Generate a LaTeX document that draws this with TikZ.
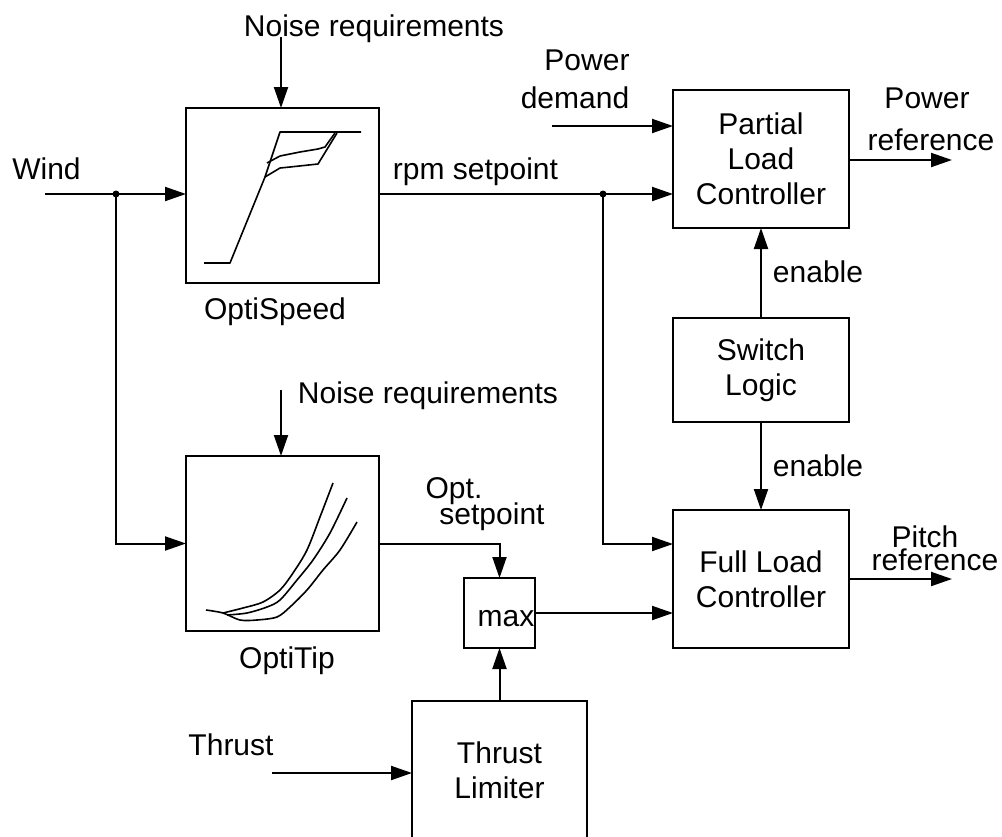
\documentclass[tikz,border=0pt]{standalone}
\usepackage{fontspec}
\setmainfont{Liberation Sans}
\usetikzlibrary{arrows.meta}
\begin{document}
\begin{tikzpicture}[x=1pt,y=-1pt,
  every node/.style={font=\fontsize{30}{35}\selectfont, inner sep=0pt, outer sep=0pt},
  blk/.style={draw, line width=2pt, align=center},
  wire/.style={line width=2pt},
  arr/.style={wire, -{Triangle[length=21pt,width=14pt]}},
  crv/.style={line width=1.6pt, line join=round},
  lbl/.style={anchor=base},
  jdot/.style={circle, fill, minimum size=7pt, inner sep=0pt}]
\useasboundingbox (0,0) rectangle (1002,836);
\clip (0,0) rectangle (1002,836);

% blocks
\node[blk, minimum width=193pt, minimum height=175pt] (os) at (282.5,195.5) {};
\node[blk, minimum width=193pt, minimum height=175pt] (ot) at (282.5,543.5) {};
\node[blk, minimum width=176pt, minimum height=138pt] (plc) at (761,159) {Partial\\Load\\Controller};
\node[blk, minimum width=176pt, minimum height=104pt] (sl) at (761,370) {Switch\\Logic};
\node[blk, minimum width=176pt, minimum height=138pt] (flc) at (761,579) {Full Load\\Controller};
\node[blk, minimum width=71pt, minimum height=70pt] (mx) at (499.5,613) {};
\node[lbl] (mxt) at (506,626) {max};
\node[blk, minimum width=175pt, minimum height=138pt] (tl) at (499.5,770) {Thrust\\Limiter};

% curves in OptiSpeed
\draw[crv] (204,263) -- (230,263) -- (265,177) -- (280,132) -- (361,132);
\draw[crv] (267,163) -- (280,156) -- (300,152) -- (318,149) -- (325,147) -- (335,133);
\draw[crv] (265,177) -- (280,168) -- (290,167) -- (318,164) -- (337,133);

% curves in OptiTip
\draw[crv] plot[smooth] coordinates {(223,613) (243,608) (263,602) (280,590) (293,573) (307,550) (320,517) (333,483)};
\draw[crv] plot[smooth] coordinates {(227,615) (247,613) (267,607) (280,600) (297,580) (313,560) (330,533) (347,498)};
\draw[crv] plot[smooth] coordinates {(206,610) (223,613) (240,620) (257,620) (277,617) (290,607) (307,590) (323,570) (340,550) (357,522)};

% labels
\node[lbl] (n1) at (374,36) {Noise requirements};
\node[lbl] (n2) at (428,403) {Noise requirements};
\node[lbl] (wind) at (46.5,179) {Wind};
\node[lbl] (rpm) at (475.5,179) {rpm setpoint};
\node[lbl] (osl) at (275,319) {OptiSpeed};
\node[lbl] (otl) at (287,668) {OptiTip};
\node[lbl] (opt1) at (454,498) {Opt.};
\node[lbl] (opt2) at (492,524) {setpoint};
\node[lbl] (pd1) at (587,70) {Power};
\node[lbl] (pd2) at (575,108) {demand};
\node[lbl] (pr1) at (927,108) {Power};
\node[lbl] (pr2) at (931,150) {reference};
\node[lbl] (pi1) at (925,547) {Pitch};
\node[lbl] (pi2) at (935,570) {reference};
\node[lbl] (en1) at (818,282) {enable};
\node[lbl] (en2) at (818,476) {enable};
\node[lbl] (thr) at (231,755) {Thrust};

% coordinates
\coordinate (windin) at (45,194);
\coordinate (j1) at (116,194);
\coordinate (j2) at (603,194);
\coordinate (flcin) at (673,544);
\coordinate (pdin) at (552,126);
\coordinate (pref) at (952,160);
\coordinate (pitch) at (952,579);
\coordinate (n1a) at (281,37);
\coordinate (n2a) at (281,390);
\coordinate (tha) at (272,773);

% connectors
\draw[wire] (windin) -- (j1);
\draw[arr] (j1) -- (os.west |- j1);
\draw[arr] (j1) |- (ot.west);
\draw[wire] (os.east |- j1) -- (j2);
\draw[arr] (j2) -- (plc.west |- j2);
\draw[arr] (j2) |- (flcin);
\node[jdot] (d1) at (j1) {};
\node[jdot] (d2) at (j2) {};
\draw[arr] (pdin) -- (plc.west |- pdin);
\draw[arr] (plc.east |- pref) -- (pref);
\draw[arr] (sl.north) -- (plc.south);
\draw[arr] (sl.south) -- (flc.north);
\draw[arr] (ot.east) -| (mx.north);
\draw[arr] (tl.north) -- (mx.south);
\draw[arr] (mx.east) -- (flc.west |- mx.east);
\draw[arr] (flc.east) -- (pitch);
\draw[arr] (n1a) -- (os.north -| n1a);
\draw[arr] (n2a) -- (ot.north -| n2a);
\draw[arr] (tha) -- (tl.west |- tha);
\end{tikzpicture}
\end{document}
